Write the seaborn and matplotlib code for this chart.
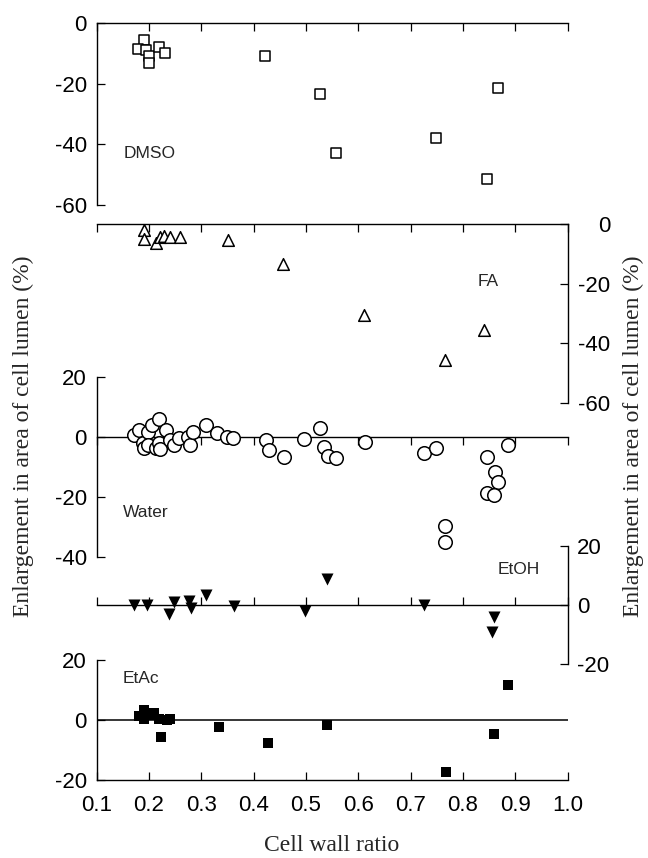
import matplotlib
matplotlib.use("Agg")
import matplotlib.pyplot as plt
import seaborn as sns

# cell wall ratio (x) and enlargement in area of cell lumen, % (y), per solvent
dmso_x = [0.19, 0.18, 0.195, 0.20, 0.20, 0.22, 0.23, 0.422, 0.527, 0.557, 0.749, 0.847, 0.867]
dmso_y = [-5.5, -8.5, -9.0, -11.0, -13.2, -8.0, -10.0, -10.9, -23.5, -43.0, -38.0, -51.5, -21.5]

fa_x = [0.19, 0.19, 0.213, 0.221, 0.229, 0.241, 0.26, 0.352, 0.457, 0.611, 0.765, 0.84]
fa_y = [-2.0, -5.0, -6.5, -4.5, -4.0, -4.5, -4.5, -5.5, -13.5, -30.5, -45.5, -35.5]

water_x = [0.171, 0.182, 0.188, 0.19, 0.198, 0.198, 0.207, 0.213, 0.219, 0.22, 0.222,
           0.233, 0.24, 0.249, 0.258, 0.274, 0.279, 0.284, 0.309, 0.331, 0.35, 0.36,
           0.424, 0.43, 0.459, 0.497, 0.527, 0.535, 0.543, 0.557, 0.613, 0.725, 0.749,
           0.765, 0.765, 0.846, 0.861, 0.867, 0.846, 0.859, 0.886]
water_y = [0.7, 2.3, -1.9, -3.5, 1.8, -2.7, 4.0, -3.5, 5.9, -2.1, -4.0,
           2.3, -1.0, -2.7, -0.4, 0.1, -2.7, 1.8, 4.0, 1.2, -0.1, -0.2,
           -1.0, -4.3, -6.8, -0.8, 2.9, -3.2, -6.3, -7.1, -1.8, -5.4, -3.8,
           -29.5, -35.0, -6.6, -11.6, -14.9, -18.8, -19.3, -2.7]

etoh_x = [0.172, 0.196, 0.238, 0.249, 0.276, 0.28, 0.309, 0.363, 0.499, 0.54, 0.725, 0.86, 0.855]
etoh_y = [0.0, 0.0, -3.0, 1.0, 1.5, -1.0, 3.5, -0.5, -2.0, 8.8, 0.0, -4.0, -9.0]

etac_x = [0.182, 0.19, 0.19, 0.201, 0.209, 0.22, 0.234, 0.24, 0.223, 0.335, 0.428, 0.54,
          0.767, 0.859, 0.886]
etac_y = [1.3, 3.3, 0.5, 1.7, 2.5, 0.5, 0.0, 0.5, -5.7, -2.3, -7.5, -1.5,
          -17.3, -4.5, 11.7]

x_ticks = [0.1, 0.2, 0.3, 0.4, 0.5, 0.6, 0.7, 0.8, 0.9, 1.0]
x_tick_labels = ["0.1", "0.2", "0.3", "0.4", "0.5", "0.6", "0.7", "0.8", "0.9", "1.0"]
ticks_60 = [0, -20, -40, -60]
ticks_water = [20, 0, -20, -40]
ticks_20 = [20, 0, -20]

sns.set_style("ticks")
plt.rcParams['font.family'] = ['Liberation Sans', 'DejaVu Sans']
plt.rcParams['axes.linewidth'] = 1.0
plt.rcParams['axes.unicode_minus'] = False

W, H = 648, 858
fig = plt.figure(figsize=(W / 100, H / 100), dpi=100)
left_px, right_px = 96.5, 567.5


def panel(top, bottom):
    ax = fig.add_axes([left_px / W, 1 - bottom / H, (right_px - left_px) / W, (bottom - top) / H])
    ax.patch.set_visible(False)
    ax.set_xlim(0.1, 1.0)
    ax.set_xticks(x_ticks)
    ax.tick_params(direction='in', length=6, width=0.9, labelsize=16, colors='black')
    for s in ax.spines.values():
        s.set_color('black')
    return ax


def dots(ax, x, y, marker, size, filled):
    sns.scatterplot(x=x, y=y, ax=ax, marker=marker, s=size,
                    color='black' if filled else 'white', edgecolor='black',
                    linewidth=0 if filled else 1.1, clip_on=False, legend=False, zorder=3)


# DMSO
ax1 = panel(23, 205)
ax1.set_ylim(-60, 0)
ax1.spines[['right', 'bottom']].set_visible(False)
ax1.xaxis.set_ticks_position('top')
ax1.tick_params(axis='x', labeltop=False, labelbottom=False)
ax1.set_yticks(ticks_60)
ax1.tick_params(axis='y', pad=7)
dots(ax1, dmso_x, dmso_y, 's', 55, False)
ax1.text(0.152, -43, "DMSO", fontsize=12.5, va='center')

# FA
ax2 = panel(224, 403)
ax2.set_ylim(-60, 0)
ax2.spines[['left', 'bottom']].set_visible(False)
ax2.xaxis.set_ticks_position('top')
ax2.tick_params(axis='x', labeltop=False, labelbottom=False)
ax2.yaxis.tick_right()
ax2.set_yticks(ticks_60)
ax2.tick_params(axis='y', pad=31)
plt.setp(ax2.get_yticklabels(), ha='right')
dots(ax2, fa_x, fa_y, '^', 70, False)
ax2.text(0.829, -19.4, "FA", fontsize=12.5, va='center')

# Water
ax3 = panel(377, 557)
ax3.set_ylim(-40, 20)
ax3.spines[['right', 'top']].set_visible(False)
ax3.spines['bottom'].set_position(('data', 0))
ax3.tick_params(axis='x', direction='out', labelbottom=False)
ax3.set_yticks(ticks_water)
ax3.tick_params(axis='y', pad=7)
dots(ax3, water_x, water_y, 'o', 95, False)
ax3.text(0.15, -25.2, "Water", fontsize=12.5, va='center')

# EtOH
ax4 = panel(546, 664)
ax4.set_ylim(-20, 20)
ax4.spines[['left', 'top']].set_visible(False)
ax4.spines['bottom'].set_position(('data', 0))
ax4.tick_params(axis='x', labelbottom=False)
ax4.yaxis.tick_right()
ax4.set_yticks(ticks_20)
ax4.tick_params(axis='y', pad=7)
dots(ax4, etoh_x, etoh_y, 'v', 75, True)
ax4.text(0.867, 11.9, "EtOH", fontsize=12.5, va='center')

# EtAc
ax5 = panel(660, 780)
ax5.set_ylim(-20, 20)
ax5.spines[['right', 'top']].set_visible(False)
ax5.axhline(0, color='black', lw=1.1, zorder=1)
ax5.set_xticklabels(x_tick_labels)
ax5.set_yticks(ticks_20)
ax5.tick_params(axis='y', pad=7)
ax5.tick_params(axis='x', pad=11)
dots(ax5, etac_x, etac_y, 's', 60, True)
ax5.text(0.15, 13.8, "EtAc", fontsize=12.5, va='center')

ylab = "Enlargement in area of cell lumen (%)"
fig.text(0.036, 0.491, ylab, rotation=90, ha='center', va='center',
         family='Liberation Serif', fontsize=17)
fig.text(0.978, 0.491, ylab, rotation=90, ha='center', va='center',
         family='Liberation Serif', fontsize=17)
fig.text(0.511, 0.015, "Cell wall ratio", ha='center', va='center',
         family='Liberation Serif', fontsize=17)

fig.savefig("out.png", dpi=100)
